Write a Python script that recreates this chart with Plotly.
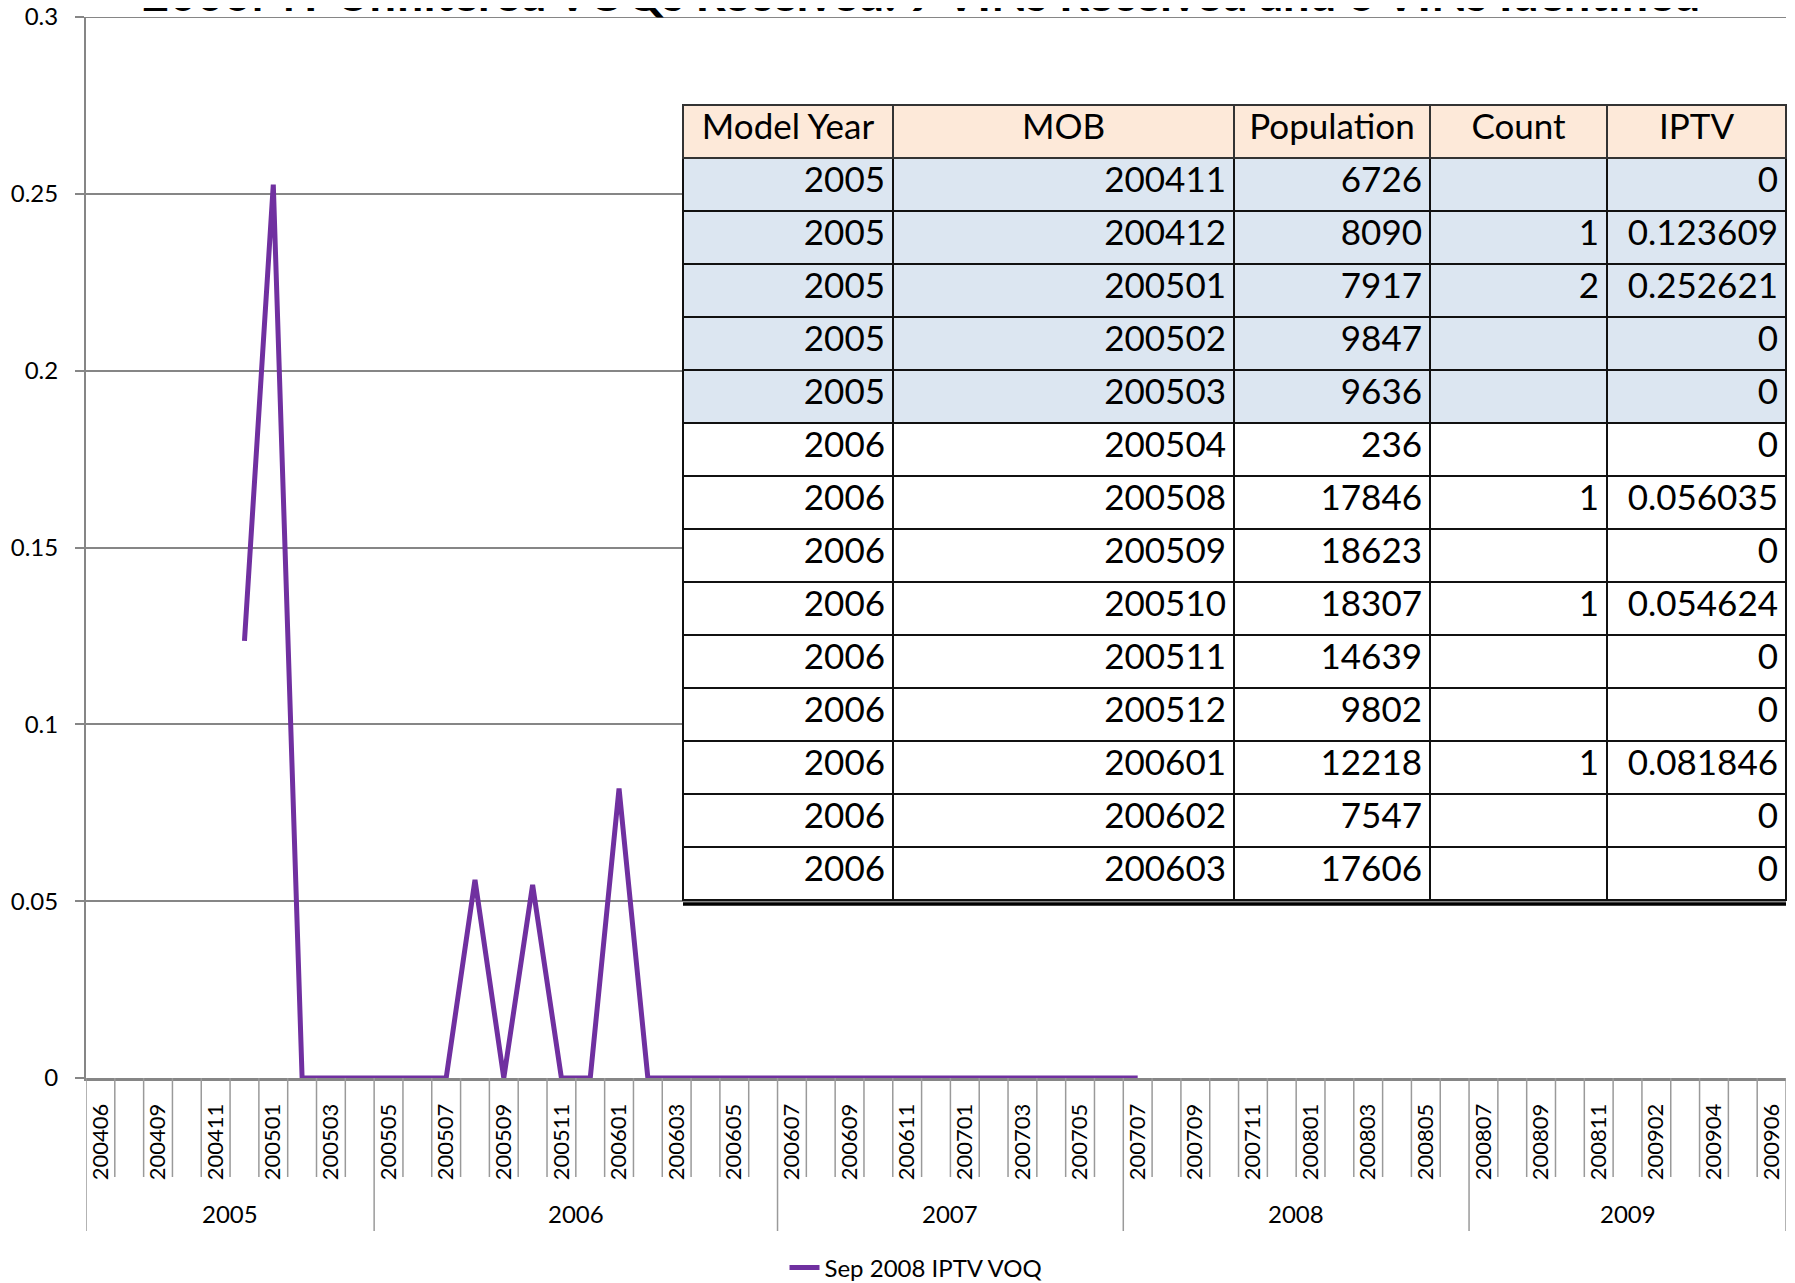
import plotly.graph_objects as go

# ---------------- data ----------------
model_year_groups = ["2005", "2006", "2007", "2008", "2009"]
mob = [
    "200406", "200408", "200409", "200410", "200411", "200412", "200501", "200502", "200503", "200504",
    "200505", "200506", "200507", "200508", "200509", "200510", "200511", "200512", "200601", "200602",
    "200603", "200604", "200605", "200606",
    "200607", "200608", "200609", "200610", "200611", "200612", "200701", "200702", "200703", "200704",
    "200705", "200706",
    "200707", "200708", "200709", "200710", "200711", "200712", "200801", "200802", "200803", "200804",
    "200805", "200806",
    "200807", "200808", "200809", "200810", "200811", "200812", "200902", "200903", "200904", "200905",
    "200906",
]
group_sizes = [10, 14, 12, 12, 11]
iptv_voq = [
    None, None, None, None, None, 0.123609, 0.252621, 0, 0, 0,
    0, 0, 0, 0.056035, 0, 0.054624, 0, 0, 0.081846, 0,
    0, 0, 0, 0,
    0, 0, 0, 0, 0, 0, 0, 0, 0, 0,
    0, 0,
    0, None, None, None, None, None, None, None, None, None,
    None, None,
    None, None, None, None, None, None, None, None, None, None,
    None,
]
series_name = "Sep 2008 IPTV VOQ"
y_ticks = [0, 0.05, 0.1, 0.15, 0.2, 0.25, 0.3]
y_tick_text = ["0", "0.05", "0.1", "0.15", "0.2", "0.25", "0.3"]

tbl_header = ["Model Year", "MOB", "Population", "Count", "IPTV"]
tbl_model_year = ["2005"] * 5 + ["2006"] * 9
tbl_mob = ["200411", "200412", "200501", "200502", "200503", "200504", "200508", "200509",
           "200510", "200511", "200512", "200601", "200602", "200603"]
tbl_population = ["6726", "8090", "7917", "9847", "9636", "236", "17846", "18623",
                  "18307", "14639", "9802", "12218", "7547", "17606"]
tbl_count = ["", "1", "2", "", "", "", "1", "", "1", "", "", "1", "", ""]
tbl_iptv = ["0", "0.123609", "0.252621", "0", "0", "0", "0.056035", "0",
            "0.054624", "0", "0", "0.081846", "0", "0"]

title_text = "2006MY Unfiltered VOQs Received: 9 VINs Received and 6 VINs Identified"

# ---------------- figure ----------------
OFF = 8  # page body margin
W, H = 1795 - OFF, 1283 - OFF
ML, MR, MT = 86 - OFF, 9, 17 - OFF
plot_w = W - ML - MR
plot_h = 1078 - 17
MB = H - MT - plot_h
FONT = "Lato, 'Open Sans', sans-serif"
GRID = "#868686"
PURPLE = "#7030A0"


def px_y(page_y):
    """page pixel y -> paper fraction"""
    return (1078 - page_y) / plot_h


def px_x(page_x):
    return (page_x - 86) / plot_w


fig = go.Figure()
fig.add_trace(go.Scatter(
    x=mob, y=iptv_voq, mode="lines", name=series_name,
    line=dict(color=PURPLE, width=5), connectgaps=False,
))

# table overlay
tbl_top, tbl_bottom = 105, 904
row_fill = ["#DCE6F1" if y == "2005" else "#FFFFFF" for y in tbl_model_year]
fig.add_trace(go.Table(
    domain=dict(x=[px_x(683), 1.0], y=[px_y(tbl_bottom + 2), px_y(tbl_top)]),
    columnwidth=[210, 341, 196, 177, 179],
    header=dict(values=tbl_header, fill_color="#FDE9D9", align="center", height=53,
                line=dict(color="#333333", width=2),
                font=dict(family=FONT, size=35, color="black")),
    cells=dict(values=[tbl_model_year, tbl_mob, tbl_population, tbl_count, tbl_iptv],
               fill_color=[row_fill] * 5, align="right", height=53,
               line=dict(color="#111111", width=2.5),
               font=dict(family=FONT, size=35, color="black")),
))

# category boundary lines and group lines below the axis
shapes = []
short_len = 99 / plot_h
long_len = 153 / plot_h
group_bounds = [0]
for s in group_sizes:
    group_bounds.append(group_bounds[-1] + s)
for i in range(len(mob) + 1):
    is_group = i in group_bounds
    shapes.append(dict(type="line", xref="x", yref="paper", x0=i - 0.5, x1=i - 0.5,
                       y0=0, y1=-(long_len if is_group else short_len),
                       line=dict(color="#9a9a9a", width=1.5)))
# top gridline (plotly drops the grid line that sits on the plot edge)
shapes.append(dict(type="line", xref="paper", yref="y", x0=0, x1=1,
                   y0=y_ticks[-1], y1=y_ticks[-1], layer="below",
                   line=dict(color=GRID, width=2)))
# table bottom border
shapes.append(dict(type="line", xref="paper", yref="paper",
                   x0=px_x(683), x1=1.0, y0=px_y(tbl_bottom), y1=px_y(tbl_bottom),
                   line=dict(color="black", width=3.5)))

annotations = []
for g, name in enumerate(model_year_groups):
    center = (group_bounds[g] + group_bounds[g + 1] - 1) / 2
    annotations.append(dict(x=center, y=px_y(1213), xref="x", yref="paper",
                            text=name, showarrow=False, yanchor="middle",
                            font=dict(family=FONT, size=24, color="black")))
annotations.append(dict(x=px_x(921), y=1, xref="paper", yref="paper",
                        text="<b>" + title_text + "</b>", showarrow=False, yanchor="bottom", yshift=-6,
                        font=dict(family=FONT, size=47, color="black")))

fig.update_layout(
    width=W, height=H,
    margin=dict(l=ML, r=MR, t=MT, b=MB, autoexpand=False),
    paper_bgcolor="white", plot_bgcolor="white",
    showlegend=True,
    legend=dict(orientation="h", xref="container", yref="container",
                x=(916 - OFF) / W, xanchor="center",
                y=1 - (1268 - OFF) / H, yanchor="middle",
                font=dict(family=FONT, size=24, color="black")),
    shapes=shapes, annotations=annotations,
    xaxis=dict(type="category", categoryorder="array", categoryarray=mob,
               range=[-0.5, len(mob) - 0.5], automargin=False,
               tickvals=mob[::2], ticktext=mob[::2], tickangle=-90,
               ticks="", showgrid=False, zeroline=False,
               showline=True, linecolor=GRID, linewidth=3,
               ticklabelstandoff=14,
               tickfont=dict(family=FONT, size=22, color="black")),
    yaxis=dict(range=[0, 0.3], tickvals=y_ticks, ticktext=y_tick_text, automargin=False,
               showgrid=True, gridcolor=GRID, gridwidth=2, zeroline=False,
               showline=True, linecolor=GRID, linewidth=2,
               ticks="outside", ticklen=9, tickcolor=GRID, tickwidth=2,
               ticklabelstandoff=12, ticklabeloverflow="allow",
               tickfont=dict(family=FONT, size=24, color="black")),
)

fig.write_html("out.html")
